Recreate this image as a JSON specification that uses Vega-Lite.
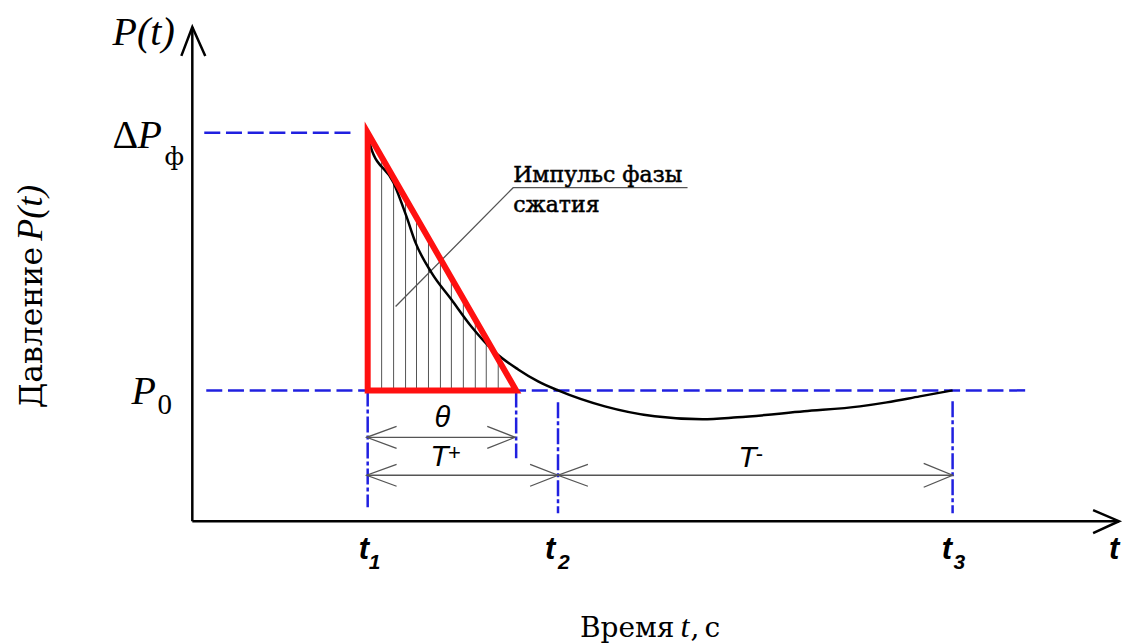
{
  "$schema": "https://vega.github.io/schema/vega-lite/v6.json",
  "width": 1124,
  "height": 643,
  "autosize": {"type": "fit", "contains": "padding"},
  "padding": 0,
  "background": "white",
  "config": {"view": {"stroke": null}},
  "encoding": {
    "x": {"field": "x", "type": "quantitative", "scale": {"domain": [-19.3, 93.1], "nice": false, "zero": false}, "axis": null},
    "y": {"field": "y", "type": "quantitative", "scale": {"domain": [-12.1, 52.2], "nice": false, "zero": false}, "axis": null}
  },
  "layer": [
    {
      "description": "Hatching under the triangular impulse approximation",
      "data": {"values": [
        {"x": 19.0, "y": 13.1, "y2": 36.5},
        {"x": 20.2, "y": 13.1, "y2": 34.4},
        {"x": 21.4, "y": 13.1, "y2": 32.3},
        {"x": 22.5, "y": 13.1, "y2": 30.4},
        {"x": 23.7, "y": 13.1, "y2": 28.3},
        {"x": 24.9, "y": 13.1, "y2": 26.3},
        {"x": 26.0, "y": 13.1, "y2": 24.4},
        {"x": 27.2, "y": 13.1, "y2": 22.3},
        {"x": 28.4, "y": 13.1, "y2": 20.2},
        {"x": 29.5, "y": 13.1, "y2": 18.3},
        {"x": 30.7, "y": 13.1, "y2": 16.2}
      ]},
      "mark": {"type": "rule", "stroke": "#555555", "strokeWidth": 1},
      "encoding": {"y2": {"field": "y2"}}
    },
    {
      "description": "Reference levels dP_f and P0",
      "data": {"values": [
        {"x": 1.2, "x2": 16.2, "y": 38.9},
        {"x": 1.4, "x2": 83.7, "y": 13.1}
      ]},
      "mark": {"type": "rule", "stroke": "#2020e0", "strokeWidth": 2.5, "strokeDash": [16, 5.7]},
      "encoding": {"x2": {"field": "x2"}}
    },
    {
      "description": "Extension lines at t1, theta, t2, t3",
      "data": {"values": [
        {"x": 17.6, "y": 13.1, "y2": 1.4},
        {"x": 32.5, "y": 13.0, "y2": 6.3},
        {"x": 36.7, "y": 11.9, "y2": 0.8},
        {"x": 76.3, "y": 12.0, "y2": 0.8}
      ]},
      "mark": {"type": "rule", "stroke": "#2020e0", "strokeWidth": 2.5, "strokeDash": [16, 3, 4, 3]},
      "encoding": {"y2": {"field": "y2"}}
    },
    {
      "description": "Axes with arrowheads",
      "data": {"values": [
        {"g": "ya", "o": 0, "x": 0, "y": 0},
        {"g": "ya", "o": 1, "x": 0, "y": 49.5},
        {"g": "yh", "o": 0, "x": -1.1, "y": 46.6},
        {"g": "yh", "o": 1, "x": 0, "y": 49.5},
        {"g": "yh", "o": 2, "x": 1.3, "y": 46.6},
        {"g": "xa", "o": 0, "x": 0, "y": 0},
        {"g": "xa", "o": 1, "x": 93.0, "y": 0},
        {"g": "xh", "o": 0, "x": 90.4, "y": 1.1},
        {"g": "xh", "o": 1, "x": 93.0, "y": 0},
        {"g": "xh", "o": 2, "x": 90.4, "y": -1.2}
      ]},
      "mark": {"type": "line", "stroke": "black", "strokeWidth": 2.5, "strokeJoin": "miter"},
      "encoding": {"detail": {"field": "g"}, "order": {"field": "o"}}
    },
    {
      "description": "Dimension lines, arrowheads and the callout leader",
      "data": {"values": [
        {"g": "lead", "o": 0, "x": 20.4, "y": 21.5},
        {"g": "lead", "o": 1, "x": 32.2, "y": 33.4},
        {"g": "lead", "o": 2, "x": 49.7, "y": 33.4},
        {"g": "th", "o": 0, "x": 17.5, "y": 8.4},
        {"g": "th", "o": 1, "x": 32.4, "y": 8.4},
        {"g": "thL", "o": 0, "x": 20.5, "y": 9.5},
        {"g": "thL", "o": 1, "x": 17.5, "y": 8.4},
        {"g": "thL", "o": 2, "x": 20.5, "y": 7.3},
        {"g": "thR", "o": 0, "x": 29.6, "y": 9.5},
        {"g": "thR", "o": 1, "x": 32.4, "y": 8.4},
        {"g": "thR", "o": 2, "x": 29.6, "y": 7.3},
        {"g": "tp", "o": 0, "x": 17.5, "y": 4.6},
        {"g": "tp", "o": 1, "x": 36.7, "y": 4.6},
        {"g": "tpL", "o": 0, "x": 20.5, "y": 5.7},
        {"g": "tpL", "o": 1, "x": 17.5, "y": 4.6},
        {"g": "tpL", "o": 2, "x": 20.5, "y": 3.5},
        {"g": "tpR", "o": 0, "x": 33.9, "y": 5.7},
        {"g": "tpR", "o": 1, "x": 36.7, "y": 4.6},
        {"g": "tpR", "o": 2, "x": 33.9, "y": 3.5},
        {"g": "tm", "o": 0, "x": 36.7, "y": 4.6},
        {"g": "tm", "o": 1, "x": 76.3, "y": 4.6},
        {"g": "tmL", "o": 0, "x": 39.7, "y": 5.7},
        {"g": "tmL", "o": 1, "x": 36.7, "y": 4.6},
        {"g": "tmL", "o": 2, "x": 39.7, "y": 3.5},
        {"g": "tmR", "o": 0, "x": 73.4, "y": 5.8},
        {"g": "tmR", "o": 1, "x": 76.3, "y": 4.6},
        {"g": "tmR", "o": 2, "x": 73.4, "y": 3.4}
      ]},
      "mark": {"type": "line", "stroke": "#555555", "strokeWidth": 1.3},
      "encoding": {"detail": {"field": "g"}, "order": {"field": "o"}}
    },
    {
      "description": "Pressure curve P(t)",
      "data": {"values": [
        {"x": 17.6, "y": 38.9},
        {"x": 17.9, "y": 37.5},
        {"x": 20.2, "y": 33.9},
        {"x": 21.5, "y": 30.5},
        {"x": 22.4, "y": 27.9},
        {"x": 24.0, "y": 24.9},
        {"x": 26.0, "y": 22.2},
        {"x": 28.0, "y": 19.5},
        {"x": 30.4, "y": 16.9},
        {"x": 32.7, "y": 15.2},
        {"x": 34.7, "y": 14.0},
        {"x": 36.7, "y": 13.1},
        {"x": 41.4, "y": 11.5},
        {"x": 46.4, "y": 10.5},
        {"x": 51.2, "y": 10.2},
        {"x": 54.7, "y": 10.4},
        {"x": 61.4, "y": 11.0},
        {"x": 67.0, "y": 11.5},
        {"x": 69.7, "y": 11.9},
        {"x": 73.0, "y": 12.5},
        {"x": 76.3, "y": 13.1}
      ]},
      "mark": {"type": "line", "stroke": "black", "strokeWidth": 2.5, "interpolate": "monotone"},
      "encoding": {}
    },
    {
      "description": "Triangular approximation of the positive phase",
      "data": {"values": [
        {"o": 0, "x": 25.0, "y": 13.1},
        {"o": 1, "x": 32.5, "y": 13.1},
        {"o": 2, "x": 17.6, "y": 38.9},
        {"o": 3, "x": 17.6, "y": 13.1},
        {"o": 4, "x": 25.0, "y": 13.1}
      ]},
      "mark": {"type": "line", "stroke": "#ff1010", "strokeWidth": 6, "strokeJoin": "miter", "strokeMiterLimit": 10},
      "encoding": {"order": {"field": "o"}}
    },
    {
      "data": {"values": [
        {"x": -8.0, "y": 47.7, "text": "P(t)"},
        {"x": -5.5, "y": 37.4, "text": "P"},
        {"x": -6.1, "y": 11.7, "text": "P"}
      ]},
      "mark": {"type": "text", "font": "Liberation Serif", "fontStyle": "italic", "fontSize": 40, "align": "left", "baseline": "alphabetic", "color": "black"},
      "encoding": {"text": {"field": "text"}}
    },
    {
      "data": {"values": [
        {"x": -8.0, "y": 37.4, "text": "Δ"}
      ]},
      "mark": {"type": "text", "font": "Liberation Serif", "fontSize": 40, "align": "left", "baseline": "alphabetic", "color": "black"},
      "encoding": {"text": {"field": "text"}}
    },
    {
      "data": {"values": [
        {"x": -3.5, "y": 10.7, "text": "0"}
      ]},
      "mark": {"type": "text", "font": "Liberation Serif", "fontSize": 29, "align": "left", "baseline": "alphabetic", "color": "black"},
      "encoding": {"text": {"field": "text"}}
    },
    {
      "data": {"values": [
        {"x": -2.8, "y": 35.7, "text": "ф"}
      ]},
      "mark": {"type": "text", "font": "DejaVu Serif", "fontSize": 25, "align": "left", "baseline": "alphabetic", "color": "black"},
      "encoding": {"text": {"field": "text"}}
    },
    {
      "data": {"values": [
        {"x": 32.2, "y": 34.0, "text": "Импульс фазы"},
        {"x": 32.2, "y": 31.0, "text": "сжатия"}
      ]},
      "mark": {"type": "text", "font": "DejaVu Serif", "fontSize": 22, "align": "left", "baseline": "alphabetic", "color": "black", "stroke": "black", "strokeWidth": 0.5},
      "encoding": {"text": {"field": "text"}}
    },
    {
      "data": {"values": [{"x": 25.1, "y": 9.4, "text": "θ"}]},
      "mark": {"type": "text", "font": "Liberation Sans", "fontStyle": "italic", "fontSize": 29, "align": "center", "baseline": "alphabetic", "color": "black"},
      "encoding": {"text": {"field": "text"}}
    },
    {
      "data": {"values": [
        {"x": 24.8, "y": 5.5, "text": "T"},
        {"x": 55.7, "y": 5.4, "text": "T"}
      ]},
      "mark": {"type": "text", "font": "Liberation Sans", "fontStyle": "italic", "fontSize": 30, "align": "center", "baseline": "alphabetic", "color": "black"},
      "encoding": {"text": {"field": "text"}}
    },
    {
      "data": {"values": [
        {"x": 26.3, "y": 6.1, "text": "+"},
        {"x": 56.9, "y": 6.0, "text": "-"}
      ]},
      "mark": {"type": "text", "font": "Liberation Sans", "fontSize": 22, "align": "center", "baseline": "alphabetic", "color": "black"},
      "encoding": {"text": {"field": "text"}}
    },
    {
      "data": {"values": [
        {"x": 16.7, "y": -3.8, "text": "t"},
        {"x": 35.4, "y": -3.8, "text": "t"},
        {"x": 75.2, "y": -3.8, "text": "t"},
        {"x": 92.0, "y": -3.8, "text": "t"}
      ]},
      "mark": {"type": "text", "font": "Liberation Sans", "fontStyle": "italic", "fontWeight": "bold", "fontSize": 31, "align": "left", "baseline": "alphabetic", "color": "black"},
      "encoding": {"text": {"field": "text"}}
    },
    {
      "data": {"values": [
        {"x": 17.7, "y": -4.8, "text": "1"},
        {"x": 36.7, "y": -4.8, "text": "2"},
        {"x": 76.4, "y": -4.8, "text": "3"}
      ]},
      "mark": {"type": "text", "font": "Liberation Sans", "fontStyle": "italic", "fontWeight": "bold", "fontSize": 21, "align": "left", "baseline": "alphabetic", "color": "black"},
      "encoding": {"text": {"field": "text"}}
    },
    {
      "data": {"values": [{"x": -15.1, "y": 11.3, "text": "Давление"}]},
      "mark": {"type": "text", "font": "DejaVu Serif", "fontSize": 31.5, "angle": 270, "align": "left", "baseline": "alphabetic", "color": "black"},
      "encoding": {"text": {"field": "text"}}
    },
    {
      "data": {"values": [{"x": -15.1, "y": 33.7, "text": "P(t)"}]},
      "mark": {"type": "text", "font": "Liberation Serif", "fontStyle": "italic", "fontSize": 36, "angle": 270, "align": "right", "baseline": "alphabetic", "color": "black"},
      "encoding": {"text": {"field": "text"}}
    },
    {
      "data": {"values": [
        {"x": 38.9, "y": -11.6, "text": "Время"}
      ]},
      "mark": {"type": "text", "font": "DejaVu Serif", "fontSize": 28, "align": "left", "baseline": "alphabetic", "color": "black"},
      "encoding": {"text": {"field": "text"}}
    },
    {
      "data": {"values": [
        {"x": 50.0, "y": -11.6, "text": ","},
        {"x": 51.4, "y": -11.6, "text": "с"}
      ]},
      "mark": {"type": "text", "font": "DejaVu Serif", "fontSize": 28, "align": "left", "baseline": "alphabetic", "color": "black"},
      "encoding": {"text": {"field": "text"}}
    },
    {
      "data": {"values": [{"x": 49.0, "y": -11.6, "text": "t"}]},
      "mark": {"type": "text", "font": "Liberation Serif", "fontStyle": "italic", "fontSize": 32, "align": "left", "baseline": "alphabetic", "color": "black"},
      "encoding": {"text": {"field": "text"}}
    }
  ]
}
